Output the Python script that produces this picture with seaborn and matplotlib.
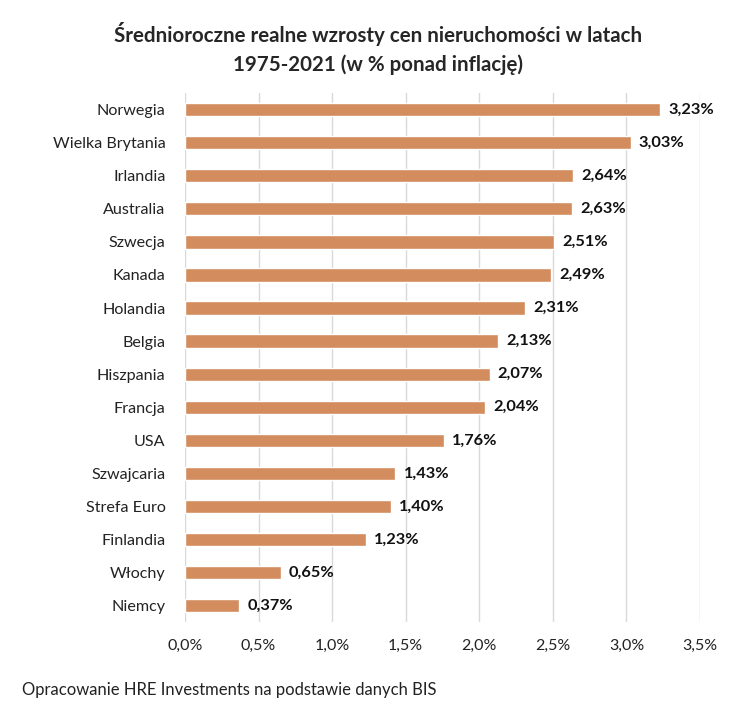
import matplotlib
matplotlib.use("Agg")
import matplotlib.pyplot as plt
import seaborn as sns
import pandas as pd

# Data
countries = ["Norwegia", "Wielka Brytania", "Irlandia", "Australia", "Szwecja",
             "Kanada", "Holandia", "Belgia", "Hiszpania", "Francja", "USA",
             "Szwajcaria", "Strefa Euro", "Finlandia", "Włochy", "Niemcy"]
growth = [3.23, 3.03, 2.64, 2.63, 2.51, 2.49, 2.31, 2.13, 2.07, 2.04, 1.76,
          1.43, 1.40, 1.23, 0.65, 0.37]
x_ticks = [0.0, 0.5, 1.0, 1.5, 2.0, 2.5, 3.0, 3.5]

df = pd.DataFrame({"kraj": countries, "wzrost": growth})

sns.set_theme(style="white")
plt.rcParams['font.family'] = ['Lato', 'DejaVu Sans']

fig = plt.figure(figsize=(7.56, 7.16), dpi=100)
ax = fig.add_axes([0.2447, 0.131, 0.926 - 0.2447, 0.739])

sns.barplot(data=df, x="wzrost", y="kraj", color="#D28C5E", width=0.4,
            saturation=1, ax=ax, zorder=3)

ax.set_xlim(0, 3.5)
ax.set_xticks(x_ticks)
ax.set_xticklabels([f"{t:.1f}%".replace(".", ",") for t in x_ticks], fontsize=11.5, color="#222222")
ax.tick_params(axis="y", labelsize=11.6, colors="#222222", length=0, pad=14)
ax.tick_params(axis="x", length=0, pad=12)
ax.set_xlabel("")
ax.set_ylabel("")
ax.grid(axis="x", color="#D9D9D9", linewidth=1, zorder=0)
for s in ax.spines.values():
    s.set_visible(False)

for i, v in enumerate(growth):
    ax.text(v + 0.055, i, f"{v:.2f}%".replace(".", ","), va="center", ha="left",
            fontsize=11.8, fontweight="bold", color="#111111")

fig.text(0.5, 0.932, "Średnioroczne realne wzrosty cen nieruchomości w latach\n1975-2021 (w % ponad inflację)",
         ha="center", va="center", fontsize=14.8, fontweight="bold", linespacing=1.5)
fig.text(0.029, 0.036, "Opracowanie HRE Investments na podstawie danych BIS",
         ha="left", va="center", fontsize=12, color="#222222")

fig.savefig("out.png", dpi=100)
